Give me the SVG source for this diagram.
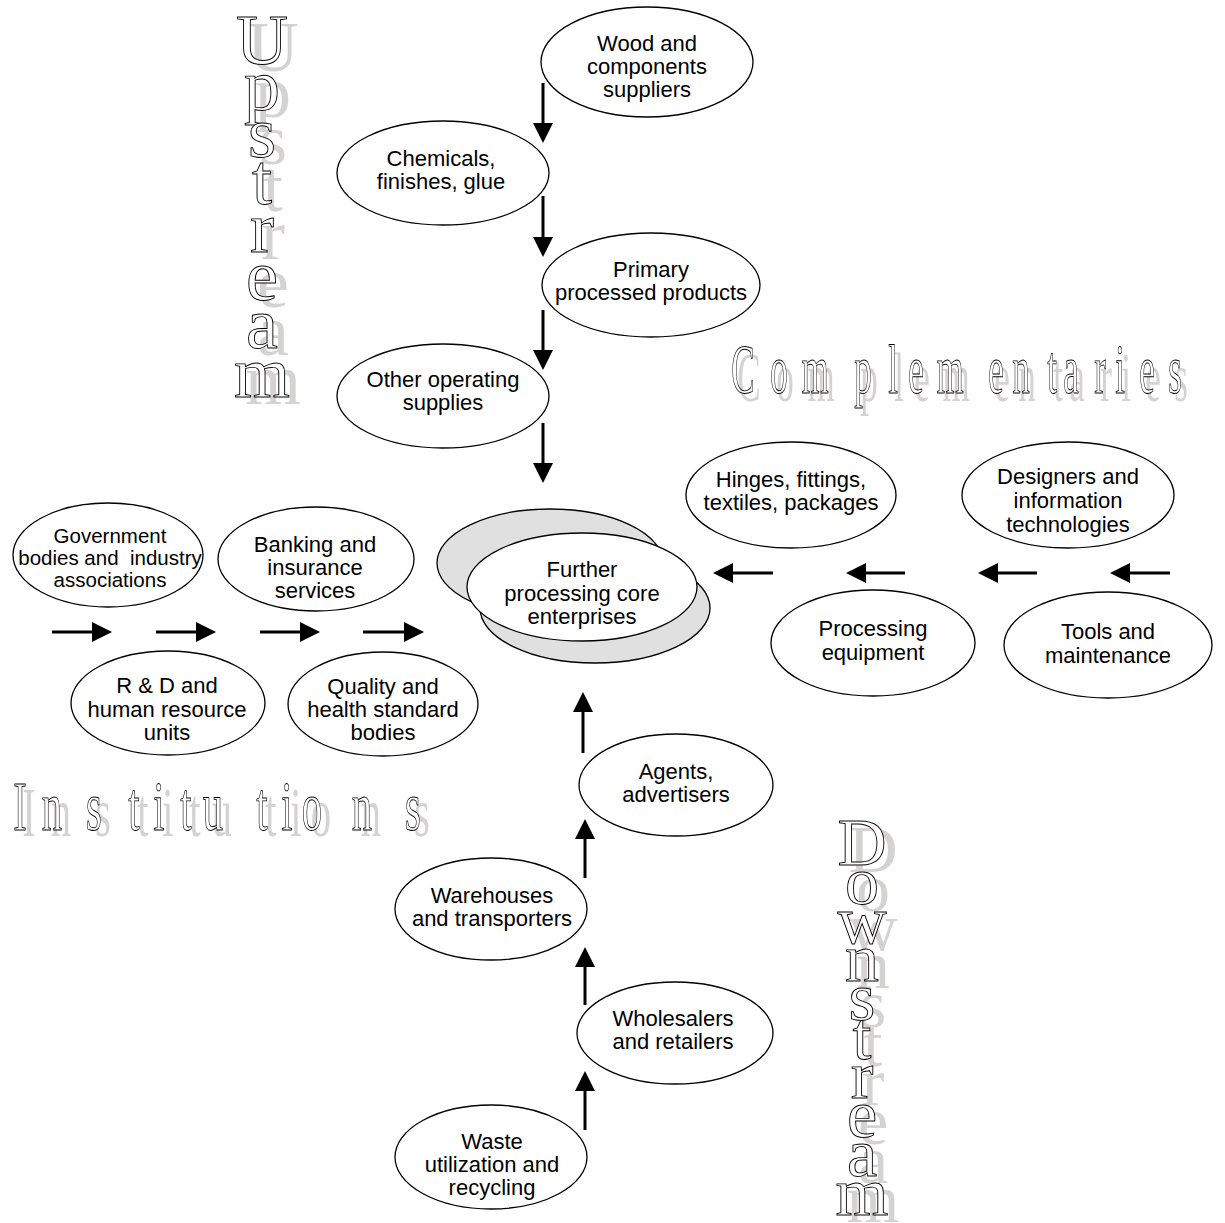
<svg xmlns="http://www.w3.org/2000/svg" xmlns:xlink="http://www.w3.org/1999/xlink" width="1225" height="1223" viewBox="0 0 1225 1223">
<style>
.node ellipse{fill:#fff;stroke:#000;stroke-width:1.3}
.core ellipse.back{fill:#e0e0e0}
.lbl{font-family:"Liberation Sans",Arial,sans-serif;font-size:22px;text-anchor:middle;fill:#000}
.small{font-size:20.5px}
.pre{white-space:pre}
.conn path{fill:none;stroke:#000;stroke-width:3}
.word{font-family:"Liberation Serif","Times New Roman",serif;text-anchor:middle}
.sh{fill:#d6d2d2;stroke:none}
.ol{fill:#fff;stroke:#000;stroke-width:0.9}
</style>
<defs>
<marker id="ah" markerUnits="userSpaceOnUse" markerWidth="20" markerHeight="20" viewBox="0 0 20 20" refX="2" refY="10" orient="auto">
<path d="M0,0 L20,10 L0,20 z" fill="#000"/>
</marker>
<g id="upL" font-size="72">
<text x="262" y="64">U</text><text x="262" y="110">p</text><text x="262" y="157">s</text><text x="262" y="204">t</text><text x="262" y="252">r</text><text x="262" y="300">e</text><text x="262" y="348">a</text><text x="262" y="397">m</text>
</g>
<g id="downL" font-size="68">
<text x="862" y="865">D</text><text x="862" y="904">o</text><text x="862" y="943">w</text><text x="862" y="981">n</text><text x="862" y="1020">s</text><text x="862" y="1059">t</text><text x="862" y="1098">r</text><text x="862" y="1137">e</text><text x="862" y="1176">a</text><text x="862" y="1215">m</text>
</g>
<g id="compL" font-size="70">
<text transform="translate(743,393) scale(0.5,1)">C</text><text transform="translate(779,393) scale(0.5,1)">o</text><text transform="translate(815,393) scale(0.5,1)">m</text><text transform="translate(863,393) scale(0.5,1)">p</text><text transform="translate(893,393) scale(0.5,1)">l</text><text transform="translate(916,393) scale(0.5,1)">e</text><text transform="translate(950,393) scale(0.5,1)">m</text><text transform="translate(996,393) scale(0.5,1)">e</text><text transform="translate(1021,393) scale(0.5,1)">n</text><text transform="translate(1052,393) scale(0.5,1)">t</text><text transform="translate(1071,393) scale(0.5,1)">a</text><text transform="translate(1100,393) scale(0.5,1)">r</text><text transform="translate(1120,393) scale(0.5,1)">i</text><text transform="translate(1147,393) scale(0.5,1)">e</text><text transform="translate(1175,393) scale(0.5,1)">s</text>
</g>
<g id="instL" font-size="70">
<text transform="translate(20,830) scale(0.58,1)">I</text><text transform="translate(52,830) scale(0.58,1)">n</text><text transform="translate(94,830) scale(0.58,1)">s</text><text transform="translate(134,830) scale(0.58,1)">t</text><text transform="translate(159,830) scale(0.58,1)">i</text><text transform="translate(186,830) scale(0.58,1)">t</text><text transform="translate(213,830) scale(0.58,1)">u</text><text transform="translate(262,830) scale(0.58,1)">t</text><text transform="translate(287,830) scale(0.58,1)">i</text><text transform="translate(312,830) scale(0.58,1)">o</text><text transform="translate(362,830) scale(0.58,1)">n</text><text transform="translate(413,830) scale(0.58,1)">s</text>
</g>
</defs>
<rect width="1225" height="1223" fill="#fff"/>

<g id="title-upstream" class="word">
<use xlink:href="#upL" class="sh" transform="translate(11,7)"/>
<use xlink:href="#upL" class="ol"/>
</g>
<g id="title-downstream" class="word">
<use xlink:href="#downL" class="sh" transform="translate(11,7)"/>
<use xlink:href="#downL" class="ol"/>
</g>
<g id="title-complementaries" class="word">
<use xlink:href="#compL" class="sh" transform="translate(6,8)"/>
<use xlink:href="#compL" class="ol"/>
</g>
<g id="title-institutions" class="word">
<use xlink:href="#instL" class="sh" transform="translate(9,6)"/>
<use xlink:href="#instL" class="ol"/>
</g>

<g id="connectors" class="conn">
<path d="M543,83 V125" marker-end="url(#ah)"/>
<path d="M543,196 V239" marker-end="url(#ah)"/>
<path d="M543,310 V352" marker-end="url(#ah)"/>
<path d="M543,423 V465" marker-end="url(#ah)"/>
<path d="M52,632 H94" marker-end="url(#ah)"/>
<path d="M156,632 H198" marker-end="url(#ah)"/>
<path d="M260,632 H302" marker-end="url(#ah)"/>
<path d="M363,632 H406" marker-end="url(#ah)"/>
<path d="M773,573 H731" marker-end="url(#ah)"/>
<path d="M905,573 H864" marker-end="url(#ah)"/>
<path d="M1037,573 H996" marker-end="url(#ah)"/>
<path d="M1170,573 H1128" marker-end="url(#ah)"/>
<path d="M583,753 V710" marker-end="url(#ah)"/>
<path d="M585,878 V837" marker-end="url(#ah)"/>
<path d="M585,1005 V965" marker-end="url(#ah)"/>
<path d="M585,1130 V1089" marker-end="url(#ah)"/>
</g>

<g id="n-wood" class="node"><ellipse cx="647" cy="62" rx="106" ry="55"/>
<text class="lbl"><tspan x="647" y="51">Wood and</tspan><tspan x="647" y="74">components</tspan><tspan x="647" y="97">suppliers</tspan></text></g>
<g id="n-chem" class="node"><ellipse cx="443" cy="173" rx="106" ry="52"/>
<text class="lbl"><tspan x="441" y="166">Chemicals,</tspan><tspan x="441" y="189">finishes, glue</tspan></text></g>
<g id="n-primary" class="node"><ellipse cx="651" cy="285" rx="109" ry="52"/>
<text class="lbl"><tspan x="651" y="277">Primary</tspan><tspan x="651" y="300">processed products</tspan></text></g>
<g id="n-other" class="node"><ellipse cx="443" cy="396" rx="106" ry="52"/>
<text class="lbl"><tspan x="443" y="387">Other operating</tspan><tspan x="443" y="410">supplies</tspan></text></g>

<g id="n-core" class="node core">
<ellipse class="back" cx="595" cy="608" rx="115" ry="55"/>
<ellipse class="back" cx="550" cy="563" rx="113" ry="54"/>
<ellipse cx="582" cy="587" rx="115" ry="54"/>
<text class="lbl"><tspan x="582" y="577">Further</tspan><tspan x="582" y="601">processing core</tspan><tspan x="582" y="624">enterprises</tspan></text></g>

<g id="n-gov" class="node"><ellipse cx="108" cy="555" rx="95" ry="52"/>
<text class="lbl small pre"><tspan x="110" y="543">Government</tspan><tspan x="110" y="565">bodies and  industry</tspan><tspan x="110" y="587">associations</tspan></text></g>
<g id="n-bank" class="node"><ellipse cx="316" cy="559" rx="98" ry="52"/>
<text class="lbl"><tspan x="315" y="552">Banking and</tspan><tspan x="315" y="575">insurance</tspan><tspan x="315" y="598">services</tspan></text></g>
<g id="n-rd" class="node"><ellipse cx="168" cy="703" rx="97" ry="52"/>
<text class="lbl"><tspan x="167" y="693">R &amp; D and</tspan><tspan x="167" y="717">human resource</tspan><tspan x="167" y="740">units</tspan></text></g>
<g id="n-quality" class="node"><ellipse cx="383" cy="704" rx="95" ry="52"/>
<text class="lbl"><tspan x="383" y="694">Quality and</tspan><tspan x="383" y="717">health standard</tspan><tspan x="383" y="740">bodies</tspan></text></g>

<g id="n-hinges" class="node"><ellipse cx="791" cy="495" rx="105" ry="53"/>
<text class="lbl"><tspan x="791" y="487">Hinges, fittings,</tspan><tspan x="791" y="510">textiles, packages</tspan></text></g>
<g id="n-designers" class="node"><ellipse cx="1068" cy="495" rx="106" ry="53"/>
<text class="lbl"><tspan x="1068" y="484">Designers and</tspan><tspan x="1068" y="508">information</tspan><tspan x="1068" y="532">technologies</tspan></text></g>
<g id="n-processing" class="node"><ellipse cx="873" cy="643" rx="102" ry="53"/>
<text class="lbl"><tspan x="873" y="636">Processing</tspan><tspan x="873" y="660">equipment</tspan></text></g>
<g id="n-tools" class="node"><ellipse cx="1108" cy="645" rx="104" ry="53"/>
<text class="lbl"><tspan x="1108" y="639">Tools and</tspan><tspan x="1108" y="663">maintenance</tspan></text></g>

<g id="n-agents" class="node"><ellipse cx="676" cy="785" rx="97" ry="51"/>
<text class="lbl"><tspan x="676" y="779">Agents,</tspan><tspan x="676" y="802">advertisers</tspan></text></g>
<g id="n-warehouses" class="node"><ellipse cx="491" cy="909" rx="96" ry="51"/>
<text class="lbl"><tspan x="492" y="903">Warehouses</tspan><tspan x="492" y="926">and transporters</tspan></text></g>
<g id="n-wholesalers" class="node"><ellipse cx="675" cy="1033" rx="98" ry="51"/>
<text class="lbl"><tspan x="673" y="1026">Wholesalers</tspan><tspan x="673" y="1049">and retailers</tspan></text></g>
<g id="n-waste" class="node"><ellipse cx="491" cy="1157" rx="96" ry="52"/>
<text class="lbl"><tspan x="492" y="1149">Waste</tspan><tspan x="492" y="1172">utilization and</tspan><tspan x="492" y="1195">recycling</tspan></text></g>
</svg>
